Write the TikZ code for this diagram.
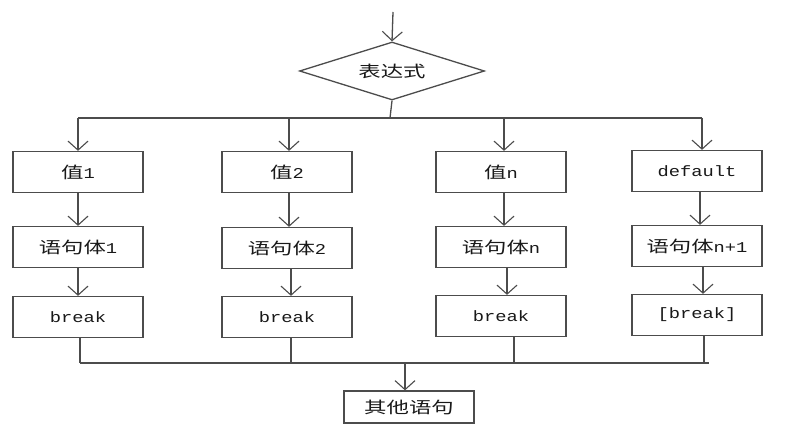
\documentclass[tikz,border=0pt]{standalone}
\usepackage{fontspec}
\setmainfont[FakeStretch=1.25]{Liberation Mono}
\newfontfamily\cjk[FakeStretch=1.4]{Noto Sans CJK SC}
\usetikzlibrary{shapes.geometric,arrows.meta}
\begin{document}
\begin{tikzpicture}[x=1pt,y=-1pt,
  line width=1.3pt, draw=black!70,
  box/.style={draw=black!70, rectangle, minimum width=130pt, minimum height=41pt, inner sep=0pt, font=\fontsize{15}{17}\selectfont, text=black!90},
  dec/.style={draw=black!70, diamond, aspect=3.2, minimum width=185pt, minimum height=58pt, inner sep=0pt, font=\fontsize{16}{18}\selectfont, text=black!90},
  arr/.style={-{Straight Barb[length=9pt,width=20pt,line width=1.1pt]}, draw=black!70},
  ln/.style={draw=black!70}]
\useasboundingbox (0,0) rectangle (791,435);
\fill[white] (0,0) rectangle (791,435);
\coordinate (in) at (393,12);
\node[dec] (d) at (392,71) {\cjk 表达式};
\node[box] (v1) at (78,172) {{\cjk\fontsize{16}{18}\selectfont 值}1};
\node[box] (v2) at (287,172) {{\cjk\fontsize{16}{18}\selectfont 值}2};
\node[box] (v3) at (501,172) {{\cjk\fontsize{16}{18}\selectfont 值}n};
\node[box] (v4) at (697,171) {default};
\node[box] (s1) at (78,247) {{\cjk\fontsize{16}{18}\selectfont 语句体}1};
\node[box] (s2) at (287,248) {{\cjk\fontsize{16}{18}\selectfont 语句体}2};
\node[box] (s3) at (501,247) {{\cjk\fontsize{16}{18}\selectfont 语句体}n};
\node[box] (s4) at (697,246) {{\cjk\fontsize{16}{18}\selectfont 语句体}n+1};
\node[box] (b1) at (78,317) {break};
\node[box] (b2) at (287,317) {break};
\node[box] (b3) at (501,316) {break};
\node[box] (b4) at (697,315) {[break]};
\node[box, minimum height=32pt, font=\fontsize{16}{18}\selectfont] (o) at (409,407) {\cjk 其他语句};
% top
\draw[arr] (in) -- (d.north);
\coordinate (bt) at (390,118);
\coordinate (bl) at (78,118);
\coordinate (br) at (702,118);
\draw[ln] (d.south) -- (bt);
\draw[ln] (bl) -- (br);
\draw[arr] (bl) -- (v1.north);
\draw[arr] (bl -| 289,0) -- (289,0 |- v2.north);
\draw[arr] (bl -| 504,0) -- (504,0 |- v3.north);
\draw[arr] (br) -- (702,0 |- v4.north);
% columns
\draw[arr] (v1.south) -- (s1.north);
\draw[arr] (289,0 |- v2.south) -- (289,0 |- s2.north);
\draw[arr] (504,0 |- v3.south) -- (504,0 |- s3.north);
\draw[arr] (700,0 |- v4.south) -- (700,0 |- s4.north);
\draw[arr] (s1.south) -- (b1.north);
\draw[arr] (291,0 |- s2.south) -- (291,0 |- b2.north);
\draw[arr] (507,0 |- s3.south) -- (507,0 |- b3.north);
\draw[arr] (703,0 |- s4.south) -- (703,0 |- b4.north);
% bottom
\coordinate (ml) at (80,363);
\coordinate (mr) at (709,363);
\draw[ln] (80,0 |- b1.south) -- (ml);
\draw[ln] (291,0 |- b2.south) -- (291,363);
\draw[ln] (514,0 |- b3.south) -- (514,363);
\draw[ln] (704,0 |- b4.south) -- (704,363);
\draw[ln] (ml) -- (mr);
\draw[arr] (405,363) -- (405,0 |- o.north);
\end{tikzpicture}
\end{document}
